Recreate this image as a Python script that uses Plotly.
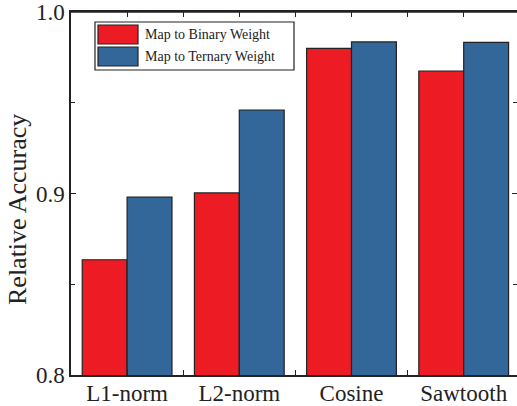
import plotly.graph_objects as go

categories = ["L1-norm", "L2-norm", "Cosine", "Sawtooth"]
binary_acc = [0.8635, 0.9003, 0.9800, 0.9675]
ternary_acc = [0.8980, 0.9460, 0.9835, 0.9833]
series_names = ["Map to Binary Weight", "Map to Ternary Weight"]
y_tick_vals = [0.8, 0.9, 1.0]
y_tick_text = ["0.8", "0.9", "1.0"]
y_title = "Relative Accuracy"

RED = "#ED1C24"
BLUE = "#336699"
EDGE = "#222222"
FONT = "Liberation Serif"

xpos = list(range(len(categories)))

fig = go.Figure()
fig.add_trace(go.Bar(x=xpos, y=binary_acc, name=series_names[0],
                     marker=dict(color=RED, line=dict(color=EDGE, width=1.2))))
fig.add_trace(go.Bar(x=xpos, y=ternary_acc, name=series_names[1],
                     marker=dict(color=BLUE, line=dict(color=EDGE, width=1.2))))

W, H = 517, 406
ml, mt, mb, mr = 71, 12, 31, 0
fig.update_layout(
    width=W, height=H,
    margin=dict(l=ml, r=mr, t=mt, b=mb, pad=0, autoexpand=False),
    paper_bgcolor="white", plot_bgcolor="white",
    barmode="group", bargap=0.2, bargroupgap=0,
    showlegend=False,
    font=dict(family=FONT, color="#222222"),
)
fig.update_xaxes(
    range=[-0.5, 3.475], automargin=False,
    tickvals=xpos, ticktext=categories,
    tickfont=dict(size=23, family=FONT),
    ticklabeloverflow="allow", ticklabelstandoff=-3,
    showline=True, linecolor=EDGE, linewidth=1.5, mirror="ticks",
    ticks="inside", ticklen=5, tickcolor=EDGE,
    minor=dict(tickvals=[0.5, 1.5, 2.5], ticks="inside", ticklen=5, tickcolor=EDGE),
    showgrid=False, zeroline=False,
)
fig.update_yaxes(
    range=[0.8, 1.0], automargin=False,
    tickvals=y_tick_vals, ticktext=y_tick_text,
    tickfont=dict(size=23, family=FONT),
    ticklabeloverflow="allow",
    showline=True, linecolor=EDGE, linewidth=1.5, mirror="ticks",
    ticks="inside", ticklen=5, tickcolor=EDGE,
    minor=dict(dtick=0.05, tick0=0.8, ticks="inside", ticklen=4, tickcolor=EDGE, showgrid=False),
    showgrid=False, zeroline=False,
)

# custom legend box and y title (paper coordinates)
pw = W - ml - mr
ph = H - mt - mb
def px_to_paper_x(px):
    return (px - ml) / pw
def px_to_paper_y(py):
    return 1 - (py - mt) / ph

shapes = [
    dict(type="line", xref="paper", yref="paper", x0=0, x1=1, y0=1, y1=1,
         line=dict(color=EDGE, width=1.5), layer="above"),
    dict(type="rect", xref="paper", yref="paper",
         x0=px_to_paper_x(95), x1=px_to_paper_x(294),
         y0=px_to_paper_y(70), y1=px_to_paper_y(22),
         line=dict(color=EDGE, width=1.2), fillcolor="white", layer="above"),
]
annotations = [
    dict(xref="paper", yref="paper", x=px_to_paper_x(18), y=px_to_paper_y(210),
         text=y_title, textangle=-90, showarrow=False, xanchor="center", yanchor="middle",
         font=dict(size=26, family=FONT, color="#222222")),
]
for i, (name, col) in enumerate(zip(series_names, [RED, BLUE])):
    top = 25 + i * 22
    shapes.append(dict(type="rect", xref="paper", yref="paper",
                       x0=px_to_paper_x(98), x1=px_to_paper_x(138),
                       y0=px_to_paper_y(top + 19), y1=px_to_paper_y(top),
                       line=dict(color=EDGE, width=1.2), fillcolor=col, layer="above"))
    annotations.append(dict(xref="paper", yref="paper",
                            x=px_to_paper_x(143), y=px_to_paper_y(top + 9.5),
                            text=name, showarrow=False, xanchor="left", yanchor="middle",
                            font=dict(size=14, family=FONT, color="#222222")))
fig.update_layout(shapes=shapes, annotations=annotations)

fig.write_html("out.html", config={"displayModeBar": False},
               post_script="document.body.style.margin='0';document.body.style.overflow='hidden';")
